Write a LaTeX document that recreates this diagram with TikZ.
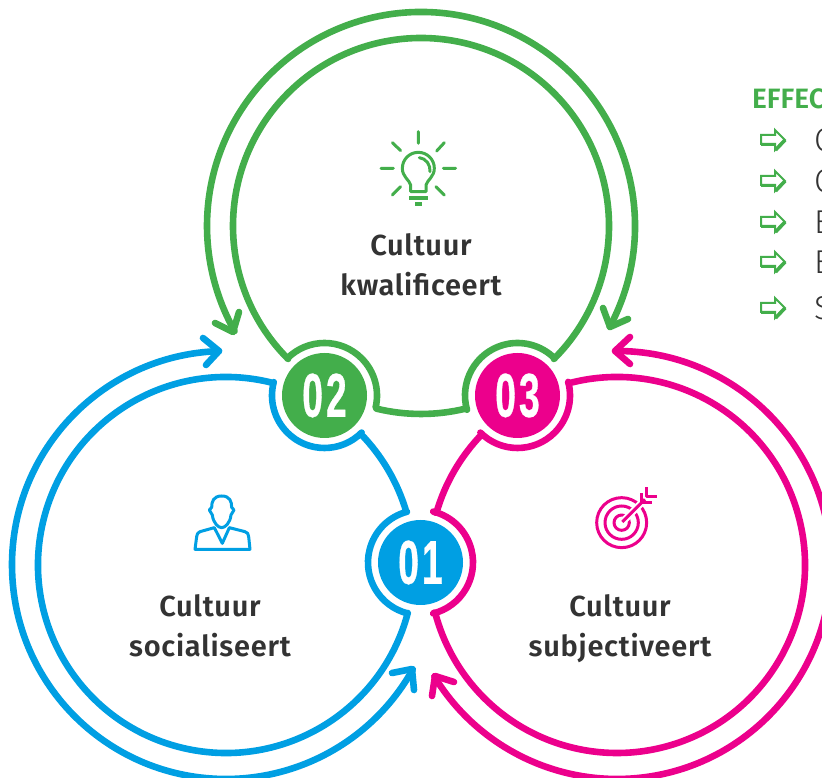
\documentclass[tikz,border=0pt]{standalone}
\usepackage{fontspec}
\setmainfont{Fira Sans}[BoldFont={Fira Sans SemiBold}]
\newfontfamily\numfont{Liberation Sans Bold}[FakeStretch=0.6,FakeBold=0.5,LetterSpace=5]
\newfontfamily\lightfont{Fira Sans Light}
\definecolor{cgreen}{HTML}{43AE4B}
\definecolor{cblue}{HTML}{009FE3}
\definecolor{cpink}{HTML}{EC008C}
\definecolor{ctext}{HTML}{333333}
\tikzset{
  loopline/.style={line width=6.6pt,line join=round,line cap=round},
  sweep/.style={line width=6.6pt,line join=round,line cap=round},
  badge/.style={circle,minimum size=85pt,inner sep=0pt,text=white,font=\numfont\fontsize{62}{62}\selectfont},
  caption/.style={text=ctext,font=\addfontfeature{LetterSpace=2.5}\bfseries\fontsize{29}{29}\selectfont,anchor=base,inner sep=0pt},
  listtext/.style={text=ctext,font=\lightfont\fontsize{33}{33}\selectfont,anchor=base west,inner sep=0pt},
  icon/.style={line width=3pt,line join=round,line cap=round},
  zoomed/.style={x=0.33333pt,y=-0.33333pt}
}
\newcommand{\hollowarrow}[1]{%
  \begin{scope}[shift={(760,#1)}]
    \draw[cgreen,line width=2pt,line cap=round,line join=miter,fill=white] (1,5)--(15,5)--(15,10)--(25,0)--(15,-10)--(15,-4)--(1,-4)--cycle;
    \draw[cgreen,line width=3.6pt,line join=miter] (15.5,-10)--(25,0);
    \draw[cgreen,line width=3pt] (1,-4.5)--(15,-4.5);
  \end{scope}}
\begin{document}
\begin{tikzpicture}[x=1pt,y=1pt]
\useasboundingbox (0,0) rectangle (822,778);
\clip (0,0) rectangle (822,778);
\coordinate (gc) at (421,552);
\coordinate (bc) at (226,213);
\coordinate (pc) at (617,213);
\coordinate (p1) at (420.5,215.5);
\coordinate (p2) at (324.5,382.5);
\coordinate (p3) at (517.5,382.5);
% closed outlines
\draw[loopline,cblue] ([shift={(75.6:188)}]bc) arc[start angle=75.6,end angle=345.2,radius=188]
  -- ([shift={(256:52.5)}]p1) arc[start angle=256,end angle=105,radius=52.5]
  -- ([shift={(16.3:188)}]bc) arc[start angle=16.3,end angle=44.1,radius=188]
  -- ([shift={(315:52.5)}]p2) arc[start angle=315,end angle=165.3,radius=52.5] -- cycle;
\draw[loopline,cgreen] ([shift={(135:52.5)}]p2) arc[start angle=135,end angle=-13.4,radius=52.5]
  -- ([shift={(256.4:188)}]gc) arc[start angle=256.4,end angle=283.7,radius=188]
  -- ([shift={(195.7:52.5)}]p3) arc[start angle=195.7,end angle=45,radius=52.5]
  -- ([shift={(315:188)}]gc) arc[start angle=315,end angle=585,radius=188] -- cycle;
\draw[loopline,cpink] ([shift={(105:188)}]pc) arc[start angle=105,end angle=-165.4,radius=188]
  -- ([shift={(-76:52.5)}]p1) arc[start angle=-76,end angle=76,radius=52.5]
  -- ([shift={(163.9:188)}]pc) arc[start angle=163.9,end angle=136,radius=188]
  -- ([shift={(225:52.5)}]p3) arc[start angle=225,end angle=375,radius=52.5] -- cycle;
% outer sweeps
\draw[sweep,cgreen] ([shift={(331.9:214)}]gc) arc[start angle=331.9,end angle=569.4,radius=214];
\draw[sweep,cgreen] (215,455)--(233,446)--(239,466);
\draw[sweep,cgreen] (603,470)--(610,451)--(628,459);
\draw[sweep,cblue] ([shift={(91.9:214)}]bc) arc[start angle=91.9,end angle=330.8,radius=214];
\draw[sweep,cblue] (203,440)--(219,427)--(206,413);
\draw[sweep,cblue] (392,105)--(412,109)--(414,88);
\draw[sweep,cpink] ([shift={(90.5:214)}]pc) arc[start angle=90.5,end angle=-148.6,radius=214];
\draw[sweep,cpink] (630,441)--(615,427)--(630,414);
\draw[sweep,cpink] (454,96)--(435,102)--(432,82);
% badges
\node[badge,fill=cblue] (n1) at (p1) {01};
\node[badge,fill=cgreen] (n2) at (p2) {02};
\node[badge,fill=cpink] (n3) at (p3) {03};
% captions
\node[caption] (g1) at (421,522) {Cultuur};
\node[caption] (g2) at (421,482) {kwalificeert};
\node[caption] (b1) at (210,161) {Cultuur};
\node[caption] (b2) at (210,121) {socialiseert};
\node[caption] (p1t) at (620,161) {Cultuur};
\node[caption] (p2t) at (620,121) {subjectiveert};
% list
\node[text=cgreen,font=\bfseries\fontsize{28}{28}\selectfont,anchor=base west,inner sep=0pt] (head) at (752,669) {EFFEC};
\hollowarrow{638}
\hollowarrow{597}
\hollowarrow{556}
\hollowarrow{516}
\hollowarrow{470}
\node[listtext] (l1) at (814,626) {C};
\node[listtext] (l2) at (814,585) {C};
\node[listtext] (l3) at (814,544) {E};
\node[listtext] (l4) at (814,504) {E};
\node[listtext] (l5) at (814,458) {S};
% bulb
\begin{scope}[shift={(360,658)},zoomed,icon,cgreen]
  \draw (175,35)--(175,70) (63,145)--(100,145) (250,145)--(287,145)
        (97,68)--(122,92) (253,68)--(230,93) (97,225)--(122,200) (253,225)--(228,200);
  \draw (152,215)--(152,195) .. controls (148,180) and (127,170) .. (127,145)
        arc[start angle=180,end angle=360,radius=48]
        .. controls (223,170) and (202,180) .. (198,195) -- (198,215) -- cycle;
  \draw (178,113) .. controls (198,115) and (212,135) .. (210,155);
  \fill (147,228) rectangle (203,240);
  \fill (165,246) rectangle (185,258);
\end{scope}
% person
\begin{scope}[shift={(170,298)},zoomed,icon,cblue]
  \draw (155,48) .. controls (130,48) and (125,65) .. (125,82) -- (118,90) -- (127,105)
        .. controls (130,130) and (145,143) .. (155,143) .. controls (165,143) and (180,130) .. (183,105)
        -- (192,90) -- (185,82) .. controls (185,65) and (180,48) .. (155,48) -- cycle;
  \draw (75,208) -- (80,170) .. controls (82,160) and (85,157) .. (90,155) -- (133,143) -- (157,190) -- (178,143)
        -- (225,155) .. controls (232,157) and (236,162) .. (236,170) -- (240,208) -- cycle;
\end{scope}
% target
\begin{scope}[shift={(580,298)},zoomed,icon,cpink,line cap=butt]
  \draw (125,128) circle[radius=75] (125,128) circle[radius=50] (125,128) circle[radius=23];
  \draw[white,line width=7pt] (130,123)--(205,48);
  \draw (127,126)--(195,58);
  \draw (200,22)--(200,50)--(232,50);
  \draw (183,40)--(183,68)--(215,68);
\end{scope}
\end{tikzpicture}
\end{document}
